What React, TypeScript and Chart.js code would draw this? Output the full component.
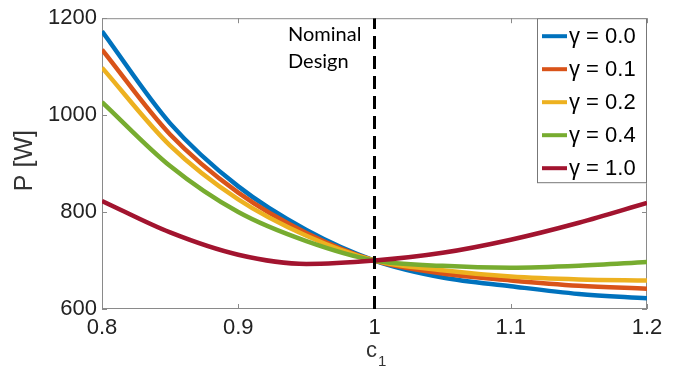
import { useEffect, useRef } from 'react';
import { Chart, registerables } from 'chart.js';

Chart.register(...registerables);

// ---- data ----
const c1Values = [0.8, 0.85, 0.9, 0.95, 1.0, 1.05, 1.1, 1.15, 1.2];
const pGamma00 = [1173, 983, 853, 763, 700, 665, 647, 631, 622];
const pGamma01 = [1135, 960, 840, 757, 700, 673, 659, 648, 642];
const pGamma02 = [1098, 937, 826, 751, 700, 680, 667, 661, 659];
const pGamma04 = [1027, 895, 800, 740, 700, 689, 685, 689, 697];
const pGamma10 = [823, 758, 712, 693, 700, 716, 743, 778, 819];
const seriesLabels = ['γ = 0.0', 'γ = 0.1', 'γ = 0.2', 'γ = 0.4', 'γ = 1.0'];
const seriesColors = ['#0072BD', '#D95319', '#EDB120', '#77AC30', '#A2142F'];
const nominalC1 = 1;
const xMin = 0.8, xMax = 1.2, xStep = 0.1;
const yMin = 600, yMax = 1200, yStep = 200;
const nominalText = ['Nominal', 'Design'];
const xTitle = 'c';
const xTitleSub = '1';
const yTitle = 'P [W]';

const FONT = "'Liberation Sans', Arial, Helvetica, sans-serif";
const FRAME = '#8a8a8a';

const framePlugin = {
  id: 'matlabFrame',
  beforeDatasetsDraw(chart: any) {
    const { ctx, chartArea: a, scales } = chart;
    ctx.save();
    ctx.strokeStyle = FRAME;
    ctx.lineWidth = 1;
    ctx.strokeRect(a.left + 0.5, a.top + 0.5, a.right - a.left - 1, a.bottom - a.top - 1);
    const tl = 5;
    ctx.beginPath();
    for (let v = xMin; v <= xMax + 1e-9; v += xStep) {
      const px = Math.round(scales.x.getPixelForValue(v)) + 0.5;
      ctx.moveTo(px, a.bottom); ctx.lineTo(px, a.bottom - tl);
      ctx.moveTo(px, a.top); ctx.lineTo(px, a.top + tl);
    }
    for (let v = yMin; v <= yMax + 1e-9; v += yStep) {
      const py = Math.round(scales.y.getPixelForValue(v)) + 0.5;
      ctx.moveTo(a.left, py); ctx.lineTo(a.left + tl, py);
      ctx.moveTo(a.right, py); ctx.lineTo(a.right - tl, py);
    }
    ctx.stroke();
    ctx.restore();
  },
  afterDraw(chart: any) {
    const { ctx, chartArea: a } = chart;
    ctx.save();
    // Nominal design annotation
    ctx.fillStyle = '#000';
    ctx.font = "20px Lato, 'Open Sans', sans-serif";
    ctx.textAlign = 'left';
    ctx.textBaseline = 'alphabetic';
    ctx.fillText(nominalText[0], 288, 41);
    ctx.fillText(nominalText[1], 288, 68);

    // y-axis title
    ctx.save();
    ctx.translate(25, (a.top + a.bottom) / 2 - 3);
    ctx.rotate(-Math.PI / 2);
    ctx.fillStyle = '#333';
    ctx.font = `25px ${FONT}`;
    ctx.textAlign = 'center';
    ctx.textBaseline = 'middle';
    ctx.fillText(yTitle, 0, 0);
    ctx.restore();

    // x-axis title with subscript
    ctx.fillStyle = '#333';
    ctx.font = `22px ${FONT}`;
    ctx.textAlign = 'left';
    ctx.textBaseline = 'alphabetic';
    const cx = (a.left + a.right) / 2;
    const wC = ctx.measureText(xTitle).width;
    ctx.fillText(xTitle, cx - wC / 2 - 3, 357);
    ctx.font = `15px ${FONT}`;
    ctx.fillText(xTitleSub, cx + wC / 2 - 2, 366);

    // legend
    const lx = 537, ly = a.top, lw = a.right - 537, lh = 165;
    ctx.fillStyle = '#fff';
    ctx.fillRect(lx, ly, lw, lh);
    ctx.strokeStyle = '#777';
    ctx.lineWidth = 1;
    ctx.strokeRect(lx + 0.5, ly + 0.5, lw - 1, lh - 1);
    const dsets = chart.data.datasets.filter((d: any) => !d.isGuide);
    dsets.forEach((d: any, i: number) => {
      const yy = ly + 18 + i * 33;
      ctx.strokeStyle = d.borderColor;
      ctx.lineWidth = 4;
      ctx.beginPath();
      ctx.moveTo(542, yy); ctx.lineTo(567, yy);
      ctx.stroke();
      ctx.fillStyle = '#000';
      ctx.font = `22px ${FONT}`;
      ctx.textBaseline = 'middle';
      ctx.fillText(d.label, 569, yy + 1);
    });
    ctx.restore();
  },
};

export default function App() {
  const ref = useRef<HTMLCanvasElement>(null);
  useEffect(() => {
    if (!ref.current) return;
    const seriesData = [pGamma00, pGamma01, pGamma02, pGamma04, pGamma10];
    const datasets: any[] = seriesData.map((vals, i) => ({
      label: seriesLabels[i],
      data: c1Values.map((c, j) => ({ x: c, y: vals[j] })),
      borderColor: seriesColors[i],
      backgroundColor: seriesColors[i],
      borderWidth: 4.5,
      pointRadius: 0,
      cubicInterpolationMode: 'monotone',
      fill: false,
      order: 5 - i,
    }));
    datasets.push({
      label: 'nominal',
      isGuide: true,
      data: [{ x: nominalC1, y: yMin }, { x: nominalC1, y: yMax }],
      borderColor: '#000',
      borderWidth: 3,
      borderDash: [13, 7],
      pointRadius: 0,
      fill: false,
      order: -1,
    });
    const chart = new Chart(ref.current, {
      type: 'line',
      data: { datasets },
      options: {
        animation: false,
        responsive: false,
        layout: { padding: { top: 15, right: 38, left: 0, bottom: 0 } },
        plugins: { legend: { display: false }, tooltip: { enabled: false } },
        scales: {
          x: {
            type: 'linear',
            min: xMin,
            max: xMax,
            grid: { display: false, drawTicks: false },
            border: { display: false },
            ticks: {
              stepSize: xStep,
              padding: 6,
              color: '#222',
              font: { size: 22, family: FONT },
              callback: (v: any) => String(+Number(v).toFixed(1)),
            },
            afterFit: (s: any) => { s.height = 71; },
          },
          y: {
            min: yMin,
            max: yMax,
            grid: { display: false, drawTicks: false },
            border: { display: false },
            ticks: {
              stepSize: yStep,
              padding: 5,
              color: '#222',
              font: { size: 22, family: FONT },
              callback: (v: any) => String(Math.round(Number(v))),
            },
            afterFit: (s: any) => { s.width = 102; },
          },
        },
      } as any,
      plugins: [framePlugin],
    });
    return () => chart.destroy();
  }, []);
  return (
    <div style={{ position: 'absolute', left: 0, top: 0, width: 685, height: 380, background: '#fff' }}>
      <canvas ref={ref} width={685} height={380} style={{ display: 'block' }} />
    </div>
  );
}
